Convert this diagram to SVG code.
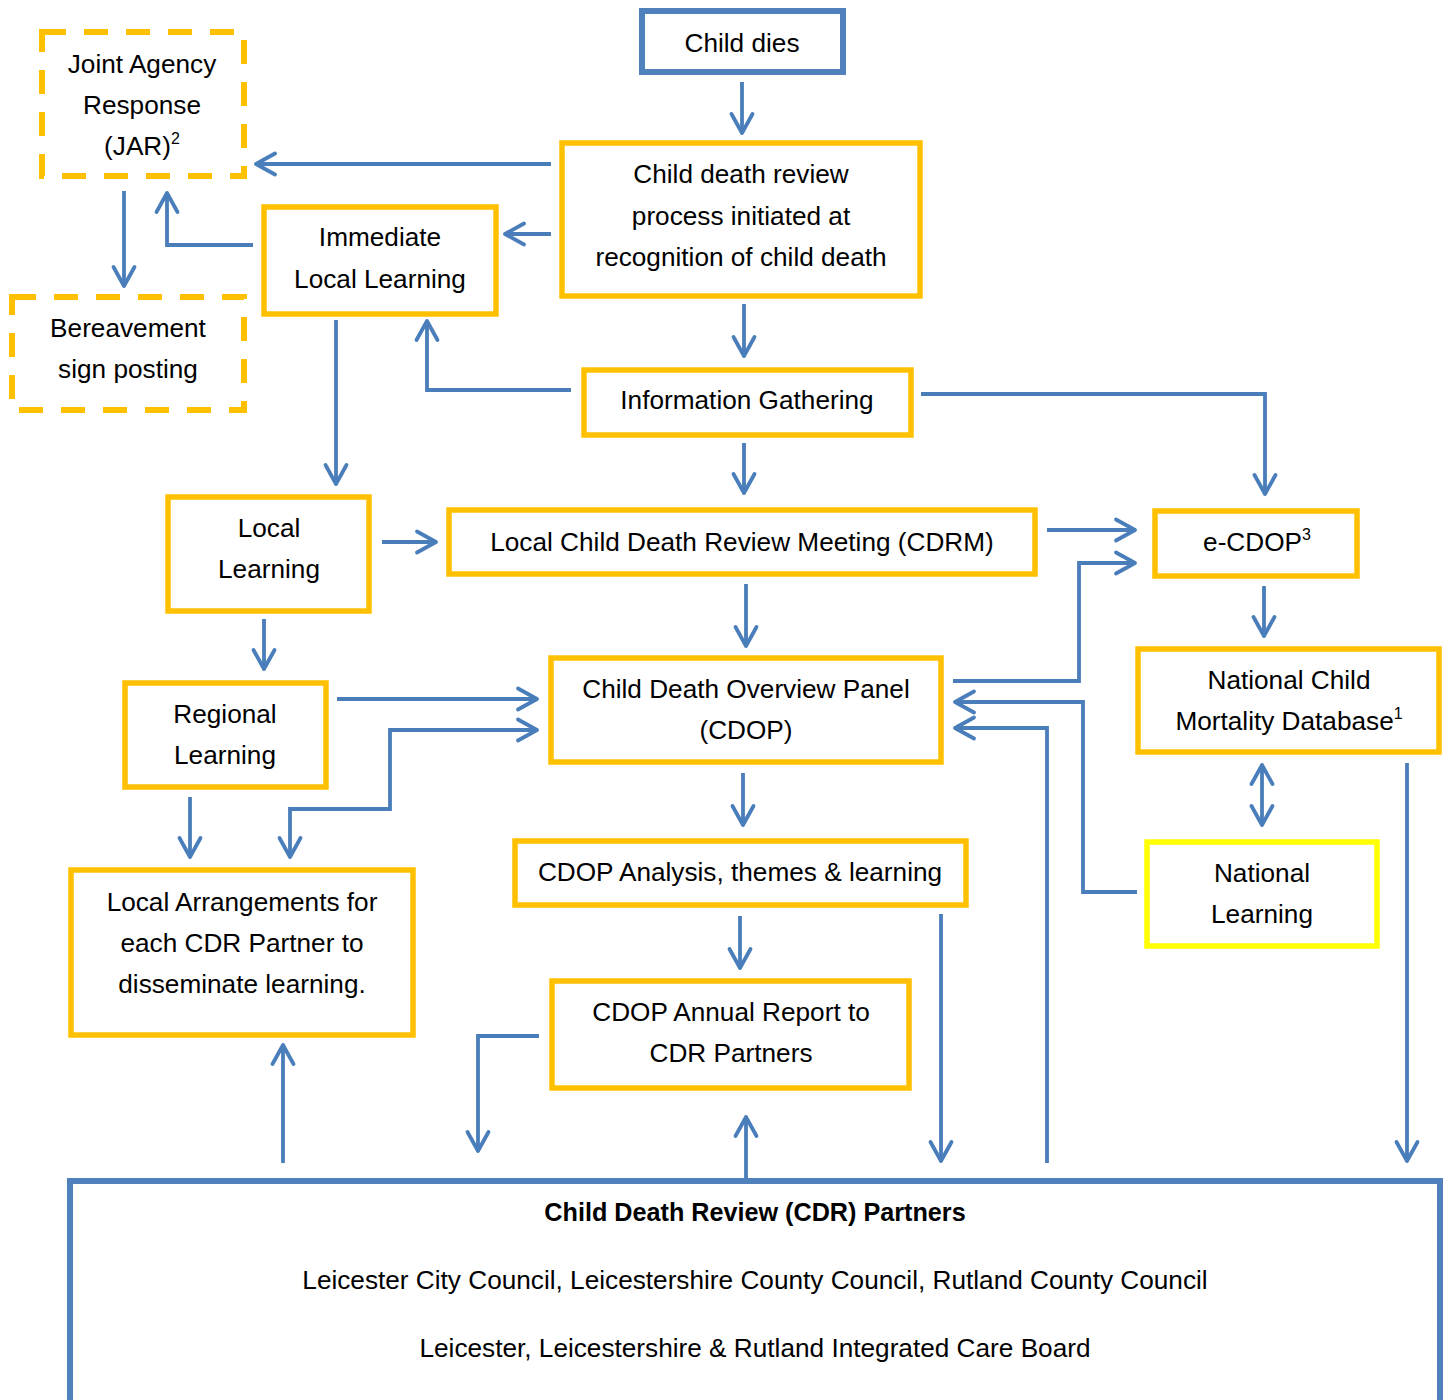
<svg xmlns="http://www.w3.org/2000/svg" width="1448" height="1400" viewBox="0 0 1448 1400">
<style>
.box{fill:#fff;stroke:#FFC000;stroke-width:5.5}
.dash{fill:#fff;stroke:#FFC000;stroke-width:6;stroke-dasharray:24 18}
.blue{fill:#fff;stroke:#4F81BD;stroke-width:6}
.natl{fill:#fff;stroke:#FFFF00;stroke-width:5.5}
.t{font-family:"Liberation Sans",Arial,sans-serif;font-size:26.2px;fill:#000;text-anchor:middle}
.b{font-weight:bold;font-size:25.2px}
.sup{font-size:16px}
.c{fill:none;stroke:#4A7EBB;stroke-width:3.8;marker-end:url(#ah)}
.d{marker-start:url(#ah)}
</style>
<defs>
<marker id="ah" markerUnits="userSpaceOnUse" markerWidth="40" markerHeight="40" viewBox="-25 -20 40 40" refX="0" refY="0" orient="auto-start-reverse" overflow="visible">
<path d="M-19,-10.5 L0,0 L-19,10.5" fill="none" stroke="#4A7EBB" stroke-width="3.8" stroke-linecap="round" stroke-linejoin="round"/>
</marker>
</defs>
<rect width="1448" height="1400" fill="#fff"/>

<g id="connectors">
<path class="c" d="M742,82 V133"/>
<path class="c" d="M551,164 H256"/>
<path class="c" d="M551,234 H505"/>
<path class="c" d="M253,245 H167 V193"/>
<path class="c" d="M124,191 V286"/>
<path class="c" d="M744,304 V356"/>
<path class="c" d="M571,390 H427 V321"/>
<path class="c" d="M336,320 V484"/>
<path class="c" d="M921,394 H1265 V494"/>
<path class="c" d="M744,443 V493"/>
<path class="c" d="M382,542 H436"/>
<path class="c" d="M1047,530 H1135"/>
<path class="c" d="M953,681 H1079 V563 H1135"/>
<path class="c" d="M1264,586 V636"/>
<path class="c" d="M746,584 V646"/>
<path class="c" d="M264,619 V669"/>
<path class="c" d="M337,699 H537"/>
<path class="c d" d="M290,857 V809 H390 V730 H537"/>
<path class="c" d="M190,797 V857"/>
<path class="c" d="M1137,892 H1083 V702 H955"/>
<path class="c" d="M1047,1163 V728 H955"/>
<path class="c d" d="M1262,765 V825"/>
<path class="c" d="M1407,763 V1161"/>
<path class="c" d="M743,773 V825"/>
<path class="c" d="M740,916 V968"/>
<path class="c" d="M941,914 V1161"/>
<path class="c" d="M539,1036 H478 V1151"/>
<path class="c" d="M746,1180 V1117"/>
<path class="c" d="M283,1163 V1045"/>
</g>

<g id="child-dies">
<rect class="blue" x="642" y="11" width="201" height="61"/>
<text class="t" x="742" y="52">Child dies</text>
</g>

<g id="cdr-process">
<rect class="box" x="562" y="143" width="358" height="153"/>
<text class="t" x="741" y="183">Child death review</text>
<text class="t" x="741" y="225">process initiated at</text>
<text class="t" x="741" y="266">recognition of child death</text>
</g>

<g id="jar">
<rect class="dash" x="42" y="32" width="202" height="144"/>
<text class="t" x="142" y="73">Joint Agency</text>
<text class="t" x="142" y="114">Response</text>
<text class="t" x="142" y="155">(JAR)<tspan class="sup" dy="-11">2</tspan></text>
</g>

<g id="immediate-local-learning">
<rect class="box" x="264" y="207" width="232" height="107"/>
<text class="t" x="380" y="246">Immediate</text>
<text class="t" x="380" y="288">Local Learning</text>
</g>

<g id="bereavement">
<rect class="dash" x="12" y="297" width="232" height="113"/>
<text class="t" x="128" y="337">Bereavement</text>
<text class="t" x="128" y="378">sign posting</text>
</g>

<g id="information-gathering">
<rect class="box" x="584" y="370" width="327" height="65"/>
<text class="t" x="747" y="409">Information Gathering</text>
</g>

<g id="cdrm">
<rect class="box" x="449" y="510" width="586" height="64"/>
<text class="t" x="742" y="551">Local Child Death Review Meeting (CDRM)</text>
</g>

<g id="local-learning">
<rect class="box" x="168" y="497" width="201" height="114"/>
<text class="t" x="269" y="537">Local</text>
<text class="t" x="269" y="578">Learning</text>
</g>

<g id="e-cdop">
<rect class="box" x="1155" y="511" width="202" height="65"/>
<text class="t" x="1257" y="551">e-CDOP<tspan class="sup" dy="-11">3</tspan></text>
</g>

<g id="ncmd">
<rect class="box" x="1138" y="649" width="301" height="103"/>
<text class="t" x="1289" y="689">National Child</text>
<text class="t" x="1289" y="730">Mortality Database<tspan class="sup" dy="-11">1</tspan></text>
</g>

<g id="regional-learning">
<rect class="box" x="125" y="683" width="201" height="104"/>
<text class="t" x="225" y="723">Regional</text>
<text class="t" x="225" y="764">Learning</text>
</g>

<g id="cdop">
<rect class="box" x="551" y="658" width="390" height="104"/>
<text class="t" x="746" y="698">Child Death Overview Panel</text>
<text class="t" x="746" y="739">(CDOP)</text>
</g>

<g id="cdop-analysis">
<rect class="box" x="515" y="841" width="451" height="64"/>
<text class="t" x="740" y="881">CDOP Analysis, themes &amp; learning</text>
</g>

<g id="annual-report">
<rect class="box" x="552" y="981" width="357" height="107"/>
<text class="t" x="731" y="1021">CDOP Annual Report to</text>
<text class="t" x="731" y="1062">CDR Partners</text>
</g>

<g id="national-learning">
<rect class="natl" x="1147" y="842" width="230" height="104"/>
<text class="t" x="1262" y="882">National</text>
<text class="t" x="1262" y="923">Learning</text>
</g>

<g id="local-arrangements">
<rect class="box" x="71" y="870" width="342" height="165"/>
<text class="t" x="242" y="911">Local Arrangements for</text>
<text class="t" x="242" y="952">each CDR Partner to</text>
<text class="t" x="242" y="993">disseminate learning.</text>
</g>

<g id="cdr-partners">
<rect class="blue" x="70" y="1181" width="1370" height="260"/>
<text class="t b" x="755" y="1221">Child Death Review (CDR) Partners</text>
<text class="t" x="755" y="1289">Leicester City Council, Leicestershire County Council, Rutland County Council</text>
<text class="t" x="755" y="1357">Leicester, Leicestershire &amp; Rutland Integrated Care Board</text>
</g>
</svg>
